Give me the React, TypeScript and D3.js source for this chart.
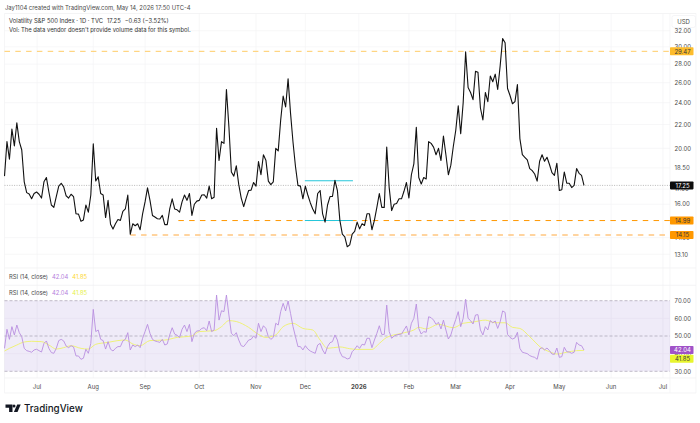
import React from 'react';
import * as d3 from 'd3';

// daily closes
const closes = [
  17.9, 20.55, 19.15, 21.6, 20.2, 22.15, 20.55, 19.87, 17.5, 16.76, 16.67, 16.36, 16.7, 16.8, 16.65, 16.4, 17.5, 17.8, 16.8, 15.95,
  15.8, 16.5, 17.2, 17.4, 17.15, 16.55, 16.4, 16.65, 16.5, 15.4, 15.38, 14.95, 15.03, 15.95, 15.5, 16.6, 20.36, 17.56, 17.85, 16.7,
  16.6, 15.17, 16.25, 14.77, 14.49, 14.8, 15.05, 15.0, 15.55, 15.7, 16.6, 14.19, 14.8, 14.68, 14.8, 14.45, 15.4, 16.15, 17.08, 16.25,
  15.3, 15.2, 15.1, 15.08, 15.3, 14.75, 14.75, 15.7, 16.35, 15.7, 15.65, 15.5, 16.15, 16.6, 16.25, 16.7, 15.3, 16.0, 16.2, 16.25,
  16.6, 16.62, 16.4, 17.2, 16.35, 16.45, 21.67, 19.05, 20.55, 20.4, 25.3, 21.8, 18.2, 17.9, 18.65, 17.3, 16.4, 15.85, 16.4, 16.9,
  16.93, 17.45, 17.2, 18.97, 18.0, 19.5, 19.08, 17.55, 17.3, 17.5, 20.0, 19.8, 22.4, 24.65, 23.6, 26.4, 23.0, 20.5, 18.6, 17.25,
  17.2, 16.35, 17.2, 16.6, 16.1, 15.7, 15.4, 16.7, 16.9, 15.4, 14.9, 15.95, 16.5, 16.5, 17.6, 16.9, 15.0, 14.2, 14.05, 13.5,
  13.6, 14.2, 14.35, 14.9, 14.5, 14.8, 14.7, 15.4, 15.4, 14.45, 15.0, 15.8, 16.7, 15.8, 15.8, 20.1, 17.1, 15.6, 16.0, 16.05,
  16.35, 16.35, 16.85, 17.45, 16.4, 18.0, 18.8, 21.75, 17.8, 17.35, 17.8, 17.7, 20.55, 20.4, 20.1, 19.5, 20.0, 19.05, 21.0, 19.5,
  18.0, 18.7, 20.15, 21.5, 23.7, 21.2, 24.0, 29.4, 25.5, 25.0, 24.3, 27.2, 27.1, 23.5, 22.4, 25.0, 24.1, 26.7, 26.1, 26.9,
  25.3, 27.8, 31.0, 30.5, 25.4, 24.7, 23.9, 24.1, 25.8, 20.8, 19.5, 19.3, 19.1, 18.45, 18.3, 18.05, 17.55, 19.0, 19.5, 19.0,
  19.3, 18.75, 18.15, 17.95, 18.85, 16.9, 16.95, 18.2, 17.4, 17.4, 17.1, 17.25, 18.45, 18.1, 17.95, 17.25,
];

const rsi = [
  43, 53.8, 48.1, 55.3, 50.6, 56.2, 51.9, 49.6, 43, 41.7, 41.3, 40.8, 42.1, 42.5, 41.7, 40.9, 45.8, 47.2, 43, 40.6,
  40.2, 43, 47.4, 48.1, 47.2, 44.3, 43.4, 44.5, 43.8, 38.7, 38.7, 36.8, 37.4, 42.5, 40.2, 45.8, 65.1, 52.5, 53.4, 48.1,
  47.4, 42.6, 46.8, 42.5, 41.5, 43, 44, 44, 47.2, 48.1, 51.9, 42.1, 44.9, 44, 44.9, 43.4, 48.7, 52.5, 56.6, 51.5,
  48.1, 47.2, 46.8, 46.4, 48.1, 44.9, 45.5, 50.6, 54.7, 51.1, 50.4, 49.2, 53.8, 56.2, 52.5, 56.6, 46.8, 51.5, 52.8, 53,
  54.3, 54.7, 53, 58.5, 52.5, 53.4, 73.2, 59, 64.3, 63.8, 73.2, 61.9, 51.5, 50.2, 51.9, 47.7, 44.5, 44, 45.8, 47.7,
  48.1, 50, 48.7, 57.2, 52.5, 55.8, 54.3, 49.6, 48.1, 49.2, 57.2, 56.2, 63.8, 68.5, 64.2, 69.8, 62.8, 55.3, 49.6, 44,
  44, 42.1, 44.5, 42.6, 41.5, 40.8, 40.2, 44.9, 45.8, 42.1, 39.8, 44, 46.2, 46.8, 50.6, 47.7, 41.1, 38.3, 37.9, 37,
  37.4, 41.1, 42.5, 44.5, 43, 45.3, 44.9, 48.7, 48.7, 43.4, 47.7, 51.5, 55.8, 50.9, 50.9, 67.5, 52.5, 48.7, 50, 50.6,
  50.9, 51.1, 53.4, 55.7, 50.6, 57.2, 60, 68.1, 54.3, 51.1, 52.5, 52.1, 60.9, 60.4, 59, 56.6, 57.7, 54, 59, 53.4,
  48.3, 50.6, 55.3, 59.4, 63.8, 55.3, 60, 70.8, 60, 58.7, 56.8, 61.9, 62.1, 53.4, 50.6, 55.3, 53.4, 58.7, 57.5, 58.5,
  54.3, 58, 64.2, 63.4, 50.9, 49.2, 48.3, 48.9, 52.1, 43, 40.8, 40.4, 40, 38.9, 38.3, 37.9, 36.8, 42.6, 43.4, 42.1,
  43.2, 41.7, 39.8, 39.6, 43.2, 37.9, 38.3, 43.6, 41.1, 40.9, 40.2, 40.8, 46.4, 44.9, 44.5, 42.04,
];

// RSI moving average, read at the bars where it bends
const maBars = [
  0, 2, 5, 8, 11, 15, 18, 21, 24, 27, 31, 34, 37, 42, 46, 49, 52, 55, 59, 65, 70, 76, 79, 85, 88, 91, 94, 99, 103, 106, 110, 113, 117, 121, 125, 128, 131, 136, 140,
  143, 149, 152, 155, 161, 166, 168, 171, 176, 182, 186, 190, 195, 199, 203, 206, 209, 213, 218, 221, 224, 228, 232, 235,
];
const maValues = [
  41.5, 43, 44.9, 46.6, 47, 46.8, 44.9, 42.6, 43.4, 44.5, 43, 42.6, 45.3, 46.4, 47.4, 47.7, 45.5, 44.5, 47.4, 47.7, 49.2, 50, 52.5, 53, 55.3, 58.7, 58.2, 54.9, 50.9, 49.2, 50.6, 55.3, 57.2, 54.3, 53.4, 47.7, 43, 43.8, 42.8,
  42.4, 42.4, 45.8, 49.2, 51.5, 53.4, 54.9, 54, 56.6, 54.7, 57.2, 57.9, 59, 57.5, 57.5, 54.9, 54.3, 49.6, 43, 41.1, 39.8, 40.8, 41.7, 41.85,
];

const monthLabels = ['Jul', 'Aug', 'Sep', 'Oct', 'Nov', 'Dec', '2026', 'Feb', 'Mar', 'Apr', 'May', 'Jun', 'Jul'];
const monthBars = [13.2, 36, 57, 79, 102, 122, 143.7, 164, 183, 205, 225, 246, 267];

const priceTicks = [32, 30, 28, 26, 24, 22, 20, 18.5, 17, 16, 14, 13.1];
const rsiTicks = [70, 60, 50, 40, 30];

const LAST = 17.25;
const RES_HIGH = 29.47;
const SUP_MID = 14.99;
const SUP_LOW = 14.15;
const BOX_TOP = 17.57;
const RSI_LAST = 42.04;
const MA_LAST = 41.85;

const FONT = 'Inter, Roboto, sans-serif';
const GRID = '#f4f4f5';
const TEXT = '#4a4a4a';

const x = d3.scaleLinear().domain([0, 235]).range([4.5, 584]);
const yPrice = d3.scaleLog().domain([13.1, 32]).range([254.3, 30.7]);
const yRsi = d3.scaleLinear().domain([30, 70]).range([371.3, 300.7]);

const closeLine = d3.line<number>().x((_, i) => x(i)).y(d => yPrice(d));
const rsiLine = d3.line<number>().x((_, i) => x(i)).y(d => yRsi(d));
const maLine = d3.line<number>().x((_, i) => x(maBars[i])).y(d => yRsi(d)).curve(d3.curveMonotoneX);

const PLOT_R = 670;
const AXIS_R = 696;

const Tag: React.FC<{ y: number; label: string; fill: string; color: string }> = ({ y, label, fill, color }) => (
  <g>
    <rect x={PLOT_R} y={y - 4} width={23.5} height={8} rx={0.8} fill={fill} />
    <text x={682.5} y={y + 2.2} textAnchor="middle" fontSize={6} fill={color}>{label}</text>
  </g>
);

const Legend: React.FC<{ y: number; maColor: string }> = ({ y, maColor }) => (
  <text x={9} y={y} fontSize={5.85} fill={TEXT}>
    RSI (14, close)
    <tspan dx={4} fill="#b57edc">{RSI_LAST.toFixed(2)}</tspan>
    <tspan dx={4} fill={maColor}>{MA_LAST.toFixed(2)}</tspan>
  </text>
);

export default function App() {
  return (
    <svg width={700} height={423} style={{ position: 'absolute', left: 0, top: 0 }} fontFamily={FONT}>
      <rect width={700} height={423} fill="#fff" />

      <text x={5} y={9.6} fontSize={5.9} fill={TEXT}>Jay1104 created with TradingView.com, May 14, 2026 17:50 UTC-4</text>

      {/* grid */}
      {priceTicks.map(t => (
        <line key={t} x1={4.5} x2={PLOT_R} y1={yPrice(t)} y2={yPrice(t)} stroke={GRID} strokeWidth={0.7} />
      ))}
      {monthBars.map((b, i) => (
        <line key={i} x1={x(b)} x2={x(b)} y1={13.5} y2={378} stroke={GRID} strokeWidth={0.7} />
      ))}

      {/* pane borders */}
      {[13.5, 268, 285.3, 378, 393].map(v => (
        <line key={v} x1={4.5} x2={AXIS_R} y1={v} y2={v} stroke="#efeff1" strokeWidth={0.7} />
      ))}
      <line x1={PLOT_R} x2={PLOT_R} y1={13.5} y2={393} stroke="#f2f2f3" strokeWidth={0.7} />
      <line x1={AXIS_R} x2={AXIS_R} y1={13.5} y2={393} stroke="#f2f2f3" strokeWidth={0.7} />
      <line x1={4.5} x2={4.5} y1={13.5} y2={393} stroke="#f2f2f3" strokeWidth={0.7} />

      {/* price legend */}
      <text x={9} y={23} fontSize={5.85} fill="#333">
        Volatility S&amp;P 500 Index · 1D · TVC
        <tspan dx={4}>{LAST.toFixed(2)}</tspan>
        <tspan dx={4}>−0.63 (−3.52%)</tspan>
      </text>
      <text x={9} y={31.5} fontSize={5.85} fill="#333">Vol: The data vendor doesn't provide volume data for this symbol.</text>

      {/* levels */}
      <line x1={4.5} x2={PLOT_R} y1={yPrice(LAST)} y2={yPrice(LAST)} stroke="#9a9a9a" strokeWidth={0.7} strokeDasharray="1 1.4" />
      <line x1={4.5} x2={PLOT_R} y1={yPrice(RES_HIGH)} y2={yPrice(RES_HIGH)} stroke="#ffcc66" strokeWidth={1} strokeDasharray="5.5 5.3" />
      <line x1={x(70.5)} x2={PLOT_R} y1={yPrice(SUP_MID)} y2={yPrice(SUP_MID)} stroke="#ff9800" strokeWidth={1} strokeDasharray="5.5 5.3" />
      <line x1={x(51)} x2={PLOT_R} y1={yPrice(SUP_LOW)} y2={yPrice(SUP_LOW)} stroke="#ffc680" strokeWidth={1.4} strokeDasharray="5.5 5.3" />
      <line x1={x(121.8)} x2={x(141.3)} y1={yPrice(BOX_TOP)} y2={yPrice(BOX_TOP)} stroke="#26c6da" strokeWidth={1.1} />
      <line x1={x(121.8)} x2={x(141.3)} y1={yPrice(SUP_MID)} y2={yPrice(SUP_MID)} stroke="#26c6da" strokeWidth={1.1} />

      <path d={closeLine(closes) ?? ''} fill="none" stroke="#111" strokeWidth={1.1} strokeLinejoin="round" />

      {/* price axis */}
      {priceTicks.map(t => (
        <text key={t} x={674.6} y={yPrice(t) + 2.2} fontSize={6} fill={TEXT}>{t.toFixed(2)}</text>
      ))}
      <rect x={672} y={15.5} width={23.5} height={12} rx={2} fill="#fff" stroke="#efeff1" strokeWidth={0.6} />
      <text x={683.5} y={23.7} textAnchor="middle" fontSize={6} fill={TEXT}>USD</text>
      <Tag y={yPrice(RES_HIGH)} label={RES_HIGH.toFixed(2)} fill="#fdbc2c" color="#3a3a3a" />
      <Tag y={yPrice(LAST)} label={LAST.toFixed(2)} fill="#0c0c0c" color="#fff" />
      <Tag y={yPrice(SUP_MID)} label={SUP_MID.toFixed(2)} fill="#ff9800" color="#3a3a3a" />
      <Tag y={yPrice(SUP_LOW)} label={SUP_LOW.toFixed(2)} fill="#ff9800" color="#3a3a3a" />

      {/* RSI panes */}
      <Legend y={279} maColor="#fdd835" />
      <Legend y={295.3} maColor="#e6f04a" />

      <rect x={4.5} y={yRsi(70)} width={PLOT_R - 4.5} height={yRsi(30) - yRsi(70)} fill="#7e57c2" fillOpacity={0.12} />
      {[60, 40].map(t => (
        <line key={t} x1={4.5} x2={PLOT_R} y1={yRsi(t)} y2={yRsi(t)} stroke="#e6e0f0" strokeWidth={0.7} />
      ))}
      {[70, 50, 30].map(t => (
        <line key={t} x1={4.5} x2={PLOT_R} y1={yRsi(t)} y2={yRsi(t)} stroke="#a8a2b2" strokeWidth={0.7} strokeDasharray="3 2" />
      ))}
      <path d={maLine(maValues) ?? ''} fill="none" stroke="#eef26a" strokeWidth={0.9} />
      <path d={rsiLine(rsi) ?? ''} fill="none" stroke="#b98ee0" strokeWidth={0.9} strokeLinejoin="round" />

      {rsiTicks.map(t => (
        <text key={t} x={674.6} y={yRsi(t) + 2.2} fontSize={6} fill={TEXT}>{t.toFixed(2)}</text>
      ))}
      <Tag y={yRsi(RSI_LAST)} label={RSI_LAST.toFixed(2)} fill="#a052c8" color="#fff" />
      <Tag y={yRsi(MA_LAST) + 8.3} label={MA_LAST.toFixed(2)} fill="#e8f52e" color="#3a3a3a" />

      {/* time axis */}
      {monthLabels.map((m, i) => (
        <text key={i} x={x(monthBars[i])} y={389.2} textAnchor="middle" fontSize={6}
          fontWeight={m === '2026' ? 700 : 400} fill={TEXT}>{m}</text>
      ))}

      {/* logo */}
      <g fill="#131722">
        <path d="M5.5 404.5h7v7.5h-3.4v-4.2h-3.6z" />
        <circle cx={14} cy={406.1} r={1.5} />
        <path d="M17.2 404.5h3.5l-3.2 7.5h-3.6z" />
      </g>
      <text x={24} y={412} fontSize={9.8} fontWeight={500} fill="#131722">TradingView</text>
    </svg>
  );
}
